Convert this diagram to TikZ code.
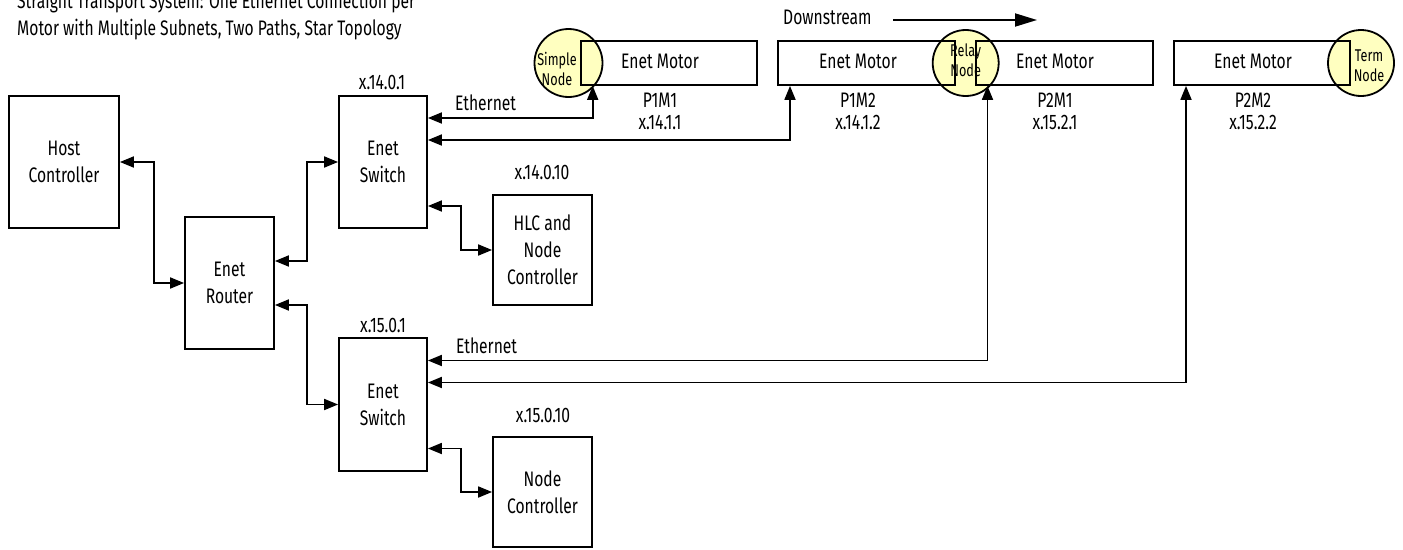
\documentclass[tikz,border=0pt]{standalone}
\usepackage{fontspec}
\setmainfont{Fira Sans}[FakeStretch=0.745]
\usetikzlibrary{arrows.meta,calc}
\definecolor{nodeyellow}{RGB}{255,255,192}
\begin{document}
\begin{tikzpicture}[x=1pt,y=-1pt,
  box/.style={draw,line width=1.8pt,inner sep=0pt,align=center,font=\fontsize{21}{27}\selectfont},
  link/.style={line width=1.8pt,arrows={Triangle[length=14pt,width=11pt]-Triangle[length=14pt,width=11pt]}},
  circ/.style={circle,draw,line width=1.8pt,fill=nodeyellow,minimum size=#1,inner sep=0pt},
  lbl/.style={font=\fontsize{21}{27}\selectfont,inner sep=0pt,align=center},
  small/.style={font=\fontsize{17}{20}\selectfont,inner sep=0pt,align=center}]
\useasboundingbox (0,0) rectangle (1403,549);

% title
\node[lbl,align=left,anchor=west] (title) at (17,16.5) {Straight Transport System: One Ethernet Connection per\\Motor with Multiple Subnets, Two Paths, Star Topology};

% yellow circles
\node[circ=68pt] (sn) at (568.5,63) {};
\node[circ=66pt] (rn) at (965.7,63) {};
\node[circ=66pt] (tn) at (1361,63) {};
\node[small] (snt) at (557,68.5) {Simple\\Node};
\node[small] (rnt) at (965.7,60) {Relay\\Node};
\node[small] (tnt) at (1369,66) {Term\\Node};

% boxes
\node[box,minimum width=110pt,minimum height=132pt] (host) at (64,162) {Host\\Controller};
\node[box,minimum width=89pt,minimum height=132pt] (router) at (229.5,283) {Enet\\Router};
\node[box,minimum width=88pt,minimum height=132pt] (sw1) at (383,162) {Enet\\Switch};
\node[box,minimum width=88pt,minimum height=133pt] (sw2) at (383,404.5) {Enet\\Switch};
\node[box,minimum width=99pt,minimum height=110pt] (hlc) at (542.5,250) {HLC and\\Node\\Controller};
\node[box,minimum width=99pt,minimum height=110pt] (nc) at (542.5,492) {Node\\Controller};

\node[box,minimum width=176pt,minimum height=44pt] (m1) at (669,63) {};
\node[box,minimum width=177pt,minimum height=44pt] (m2) at (866.5,63) {};
\node[box,minimum width=177pt,minimum height=44pt] (m3) at (1064.5,63) {};
\node[box,minimum width=176pt,minimum height=44pt] (m4) at (1262,63) {};

% motor texts
\node[lbl] (m1t) at (660,61) {Enet Motor};
\node[lbl] (m2t) at (858,61) {Enet Motor};
\node[lbl] (m3t) at (1055,61) {Enet Motor};
\node[lbl] (m4t) at (1253,61) {Enet Motor};
\node[lbl] (m1n) at (660,100) {P1M1};
\node[lbl] (m2n) at (858,100) {P1M2};
\node[lbl] (m3n) at (1055,100) {P2M1};
\node[lbl] (m4n) at (1253,100) {P2M2};
\node[lbl] (m1a) at (660,122) {x.14.1.1};
\node[lbl] (m2a) at (858,122) {x.14.1.2};
\node[lbl] (m3a) at (1055,122) {x.15.2.1};
\node[lbl] (m4a) at (1253,122) {x.15.2.2};

% address labels
\node[lbl] (sw1a) at (382,82) {x.14.0.1};
\node[lbl] (sw2a) at (383,325) {x.15.0.1};
\node[lbl] (hlca) at (542,172) {x.14.0.10};
\node[lbl] (nca) at (543,415) {x.15.0.10};
\node[lbl,anchor=west] (eth1) at (455,103) {Ethernet};
\node[lbl,anchor=west] (eth2) at (456,346) {Ethernet};

% downstream
\node[lbl,anchor=west] (ds) at (783,17) {Downstream};
\coordinate (dsa) at (893,20);
\coordinate (dsb) at (1037,20);
\draw[line width=1.8pt,-{Triangle[length=22pt,width=13pt]}] (dsa) -- (dsb);

% connectors
\draw[link] (host.east) -- ++(33.7,0) |- (router.west);
\draw[link] ([yshift=22pt]router.east) -- ++(32,0) |- (sw1.west);
\draw[link] ([yshift=-22pt]router.east) -- ++(32,0) |- (sw2.west);
\draw[link] ([yshift=-44pt]sw1.east) -- ++(33,0) |- (hlc.west);
\draw[link] ([yshift=-44pt]sw2.east) -- ++(33,0) |- (nc.west);
\draw[link] ([yshift=44pt]sw1.east) -| ([xshift=-76.3pt]m1.south);
\draw[link] ([yshift=22pt]sw1.east) -| ([xshift=-76.5pt]m2.south);
\draw[link] ([yshift=44pt]sw2.east) -| ([xshift=-77pt]m3.south);
\draw[link] ([yshift=22pt]sw2.east) -| ([xshift=-76pt]m4.south);
\end{tikzpicture}
\end{document}
